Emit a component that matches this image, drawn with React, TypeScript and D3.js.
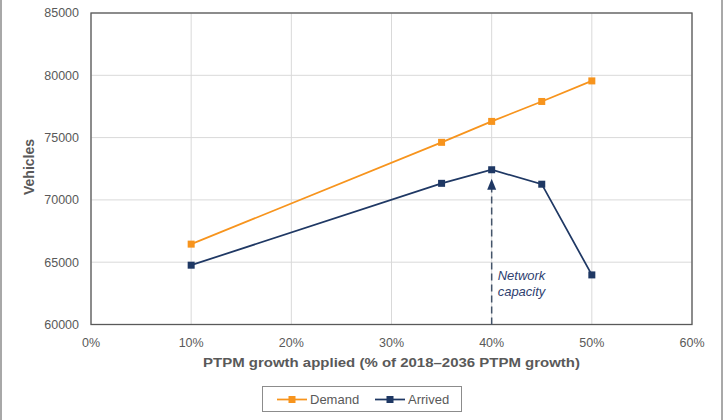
import React from "react";
import * as d3 from "d3";

const growthPct = [10, 35, 40, 45, 50];
const demand = [66450, 74620, 76300, 77900, 79550];
const arrived = [64760, 71330, 72420, 71260, 63980];
const xTicks = [0, 10, 20, 30, 40, 50, 60];
const yTicks = [60000, 65000, 70000, 75000, 80000, 85000];
const capacityPct = 40;

const W = 728;
const H = 420;
const margin = { top: 13, right: 36, bottom: 96, left: 91 };
const gray = "#595959";
const orange = "#F7941D";
const navy = "#1F3864";
const font = "'Liberation Sans', Arial, sans-serif";

const App = () => {
  const x = d3
    .scaleLinear()
    .domain([0, 60])
    .range([margin.left, W - margin.right]);
  const y = d3
    .scaleLinear()
    .domain([60000, 85000])
    .range([H - margin.bottom + 0.5, margin.top]);

  const line = d3
    .line<number>()
    .x((_, i) => x(growthPct[i]))
    .y((d) => y(d));

  const series = [
    { name: "Demand", values: demand, color: orange },
    { name: "Arrived", values: arrived, color: navy },
  ];

  const capIdx = growthPct.indexOf(capacityPct);
  const arrowTop = y(arrived[capIdx]) + 9;
  const bottom = y(60000);

  return (
    <svg
      width={W}
      height={H}
      style={{ position: "absolute", left: 0, top: 0, fontFamily: font }}
    >
      <rect x={0} y={0} width={W} height={H} fill="#fff" />
      <rect x={1} y={-2} width={721} height={H + 4} fill="none" stroke="#8c8c8c" strokeWidth={1.5} />

      {/* grid */}
      {xTicks.map((t) => (
        <line key={"gx" + t} x1={x(t)} x2={x(t)} y1={y(85000)} y2={bottom} stroke="#d9d9d9" />
      ))}
      {yTicks.map((t) => (
        <line key={"gy" + t} x1={x(0)} x2={x(60)} y1={y(t)} y2={y(t)} stroke="#d9d9d9" />
      ))}
      <rect
        x={x(0)}
        y={y(85000)}
        width={x(60) - x(0)}
        height={bottom - y(85000)}
        fill="none"
        stroke="#595959"
        strokeWidth={1.3}
      />

      {/* tick labels */}
      {yTicks.map((t) => (
        <text key={"ty" + t} x={x(0) - 12} y={y(t)} dy="0.35em" textAnchor="end" fontSize={12.5} fill={gray}>
          {t}
        </text>
      ))}
      {xTicks.map((t) => (
        <text key={"tx" + t} x={x(t)} y={bottom + 22} textAnchor="middle" fontSize={12.5} fill={gray}>
          {t}%
        </text>
      ))}

      {/* axis titles */}
      <text
        x={(x(0) + x(60)) / 2}
        y={bottom + 42}
        textAnchor="middle"
        fontSize={13.5}
        fontWeight="bold"
        fill={gray}
        textLength={377}
        lengthAdjust="spacingAndGlyphs"
      >
        PTPM growth applied (% of 2018–2036 PTPM growth)
      </text>
      <text
        transform={`translate(34,167) rotate(-90)`}
        textAnchor="middle"
        fontSize={14}
        fontWeight="bold"
        fill={gray}
      >
        Vehicles
      </text>

      {/* network capacity arrow */}
      <line
        x1={x(capacityPct)}
        x2={x(capacityPct)}
        y1={bottom}
        y2={arrowTop + 8}
        stroke="#44546A"
        strokeWidth={1.5}
        strokeDasharray="7,4"
      />
      <path
        d={`M${x(capacityPct)},${arrowTop} l-4.5,11 l9,0 z`}
        fill="#1F3864"
      />
      <text x={x(capacityPct) + 6} y={280} fontSize={13} fontStyle="italic" fill="#2F4170">
        <tspan x={x(capacityPct) + 6}>Network</tspan>
        <tspan x={x(capacityPct) + 6} dy={15.5}>capacity</tspan>
      </text>

      {/* series */}
      {series.map((s) => (
        <g key={s.name}>
          <path d={line(s.values) || ""} fill="none" stroke={s.color} strokeWidth={1.75} />
          {s.values.map((v, i) => (
            <rect
              key={i}
              x={x(growthPct[i]) - 3.5}
              y={y(v) - 3.5}
              width={7}
              height={7}
              fill={s.color}
            />
          ))}
        </g>
      ))}

      {/* legend */}
      <rect x={262.5} y={386.5} width={199} height={25} fill="#fff" stroke="#8c8c8c" />
      {series.map((s, i) => {
        const lx = 277 + i * 98;
        return (
          <g key={"lg" + s.name}>
            <line x1={lx} x2={lx + 30} y1={399.5} y2={399.5} stroke={s.color} strokeWidth={1.75} />
            <rect x={lx + 11.5} y={396} width={7} height={7} fill={s.color} />
            <text x={lx + 33} y={399.5} dy="0.35em" fontSize={13} fill={gray}>
              {s.name}
            </text>
          </g>
        );
      })}
    </svg>
  );
};

export default App;
